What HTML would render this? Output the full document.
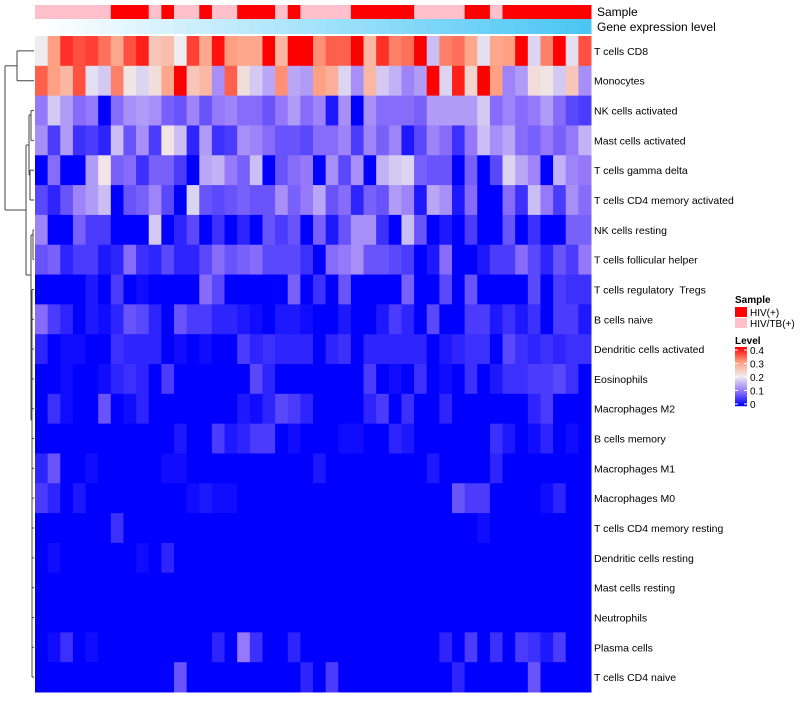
<!DOCTYPE html>
<html><head><meta charset="utf-8">
<style>
body{margin:0;background:#fff;}
svg text{font-family:"Liberation Sans",sans-serif;white-space:pre;}
</style></head>
<body>
<svg id="chart" width="800" height="700" xmlns="http://www.w3.org/2000/svg">
<g id="dend" stroke="#444" stroke-width="1" fill="none"></g>
<g id="annot"></g>
<g id="cells"></g>
<g id="labels"></g>
<text x="597" y="16" font-size="12">Sample</text>
<text x="597" y="31" font-size="12">Gene expression level</text>
<g>
<text x="735" y="303" font-size="10" font-weight="bold">Sample</text>
<rect x="735" y="307" width="12" height="10" fill="#ff0000"/>
<text x="750" y="316" font-size="10">HIV(+)</text>
<rect x="735" y="318" width="12" height="10" fill="#ffc0cb"/>
<text x="750" y="327" font-size="10">HIV/TB(+)</text>
<text x="735" y="344" font-size="10" font-weight="bold">Level</text>
<g id="cbar"></g>
</g>
</svg>
<script>
const rowNames=["T cells CD8","Monocytes","NK cells activated","Mast cells activated","T cells gamma delta","T cells CD4 memory activated","NK cells resting","T cells follicular helper","T cells regulatory  Tregs","B cells naive","Dendritic cells activated","Eosinophils","Macrophages M2","B cells memory","Macrophages M1","Macrophages M0","T cells CD4 memory resting","Dendritic cells resting","Mast cells resting","Neutrophils","Plasma cells","T cells CD4 naive"];
const sampleGroups=["T","T","T","T","T","T","H","H","H","T","H","T","T","H","T","T","H","H","H","T","H","T","T","T","T","H","H","H","H","H","T","T","T","T","H","H","T","H","H","H","H","H","H","H"];
const rowCD8=[0.2,0.3,0.37,0.35,0.36,0.33,0.29,0.35,0.38,0.25,0.26,0.2,0.36,0.29,0.39,0.3,0.29,0.29,0.4,0.27,0.4,0.4,0.31,0.34,0.34,0.4,0.27,0.37,0.32,0.33,0.4,0.16,0.32,0.33,0.29,0.19,0.29,0.3,0.4,0.18,0.32,0.4,0.19,0.35];
const rowMono=[0.34,0.3,0.27,0.35,0.19,0.17,0.32,0.21,0.18,0.22,0.29,0.4,0.25,0.27,0.12,0.34,0.22,0.17,0.14,0.31,0.14,0.13,0.3,0.28,0.18,0.12,0.27,0.17,0.15,0.11,0.13,0.4,0.18,0.38,0.23,0.4,0.3,0.11,0.13,0.22,0.21,0.17,0.25,0.12];
const rowNKa=[0.1,0.17,0.13,0.09,0.1,0,0.09,0.12,0.13,0.12,0.08,0.07,0.11,0.07,0.1,0.11,0.09,0.09,0.07,0.1,0.13,0.09,0.11,0.02,0.12,0,0.12,0.09,0.09,0.09,0.08,0.13,0.13,0.13,0.13,0.17,0.09,0.11,0.09,0.1,0.13,0.09,0.06,0.05];
const rowMastA=[0.12,0.05,0.13,0.04,0.05,0.03,0.16,0.07,0.12,0.05,0.21,0.16,0.03,0.13,0.04,0.05,0.12,0.11,0.09,0.07,0.07,0.06,0.09,0.09,0.11,0.05,0.11,0.08,0.11,0.02,0.06,0.11,0.09,0.04,0.1,0.16,0.12,0.14,0.09,0.08,0.1,0.08,0.1,0.15];
const rowGD=[0,0.09,0,0,0.13,0.21,0.08,0.09,0.04,0.08,0.08,0.05,0,0.14,0.15,0.1,0.08,0.16,0,0.07,0.09,0.1,0,0.12,0.06,0.12,0,0.15,0.17,0.18,0.08,0.07,0.07,0,0.08,0,0.06,0.18,0.14,0.11,0,0.15,0.11,0.1];
const rowCD4a=[0.06,0.03,0.07,0.11,0.13,0.16,0,0.07,0.08,0.11,0.06,0,0.18,0.07,0.06,0.07,0.08,0.07,0.07,0.12,0.08,0.1,0.14,0.07,0.09,0.03,0.08,0.07,0.13,0.11,0.02,0.14,0.12,0.02,0.09,0,0,0.09,0.04,0.16,0.1,0.05,0.12,0.09];
const rowNKr=[0.11,0,0,0.08,0.05,0.05,0,0,0,0.17,0,0.03,0.06,0,0.04,0,0.03,0,0.07,0.05,0.07,0,0.08,0.02,0.07,0.12,0.12,0.04,0,0.16,0.07,0,0.02,0,0.05,0,0,0.07,0,0.04,0,0,0.08,0.08];
const rowTfh=[0.07,0.08,0.03,0.05,0.05,0.02,0.03,0.09,0.04,0.03,0.06,0.03,0.03,0.06,0.09,0.07,0.08,0.09,0.06,0.06,0.06,0.04,0,0.09,0.1,0.12,0.07,0.07,0.06,0.05,0,0.02,0.09,0,0,0.02,0.05,0.05,0.09,0.06,0.03,0.07,0.05,0.1];
const rowTreg=[0,0,0,0,0.02,0,0.05,0,0.01,0,0,0,0,0.09,0.06,0,0,0,0,0,0.08,0,0.04,0,0.07,0,0,0,0,0.08,0,0,0.06,0,0.07,0,0,0,0,0.06,0,0.05,0.04,0.04];
const rowBn=[0.09,0.05,0.03,0,0.02,0.01,0.03,0.07,0.06,0.03,0,0.07,0.05,0.05,0.03,0.03,0.02,0.01,0,0.02,0.02,0.01,0,0,0.02,0,0,0.02,0.05,0.03,0,0.06,0,0,0.05,0.05,0.02,0.04,0.02,0.04,0,0.05,0.05,0.02];
const rowDCa=[0.03,0,0.01,0.01,0,0,0.04,0.03,0.03,0.03,0,0.01,0,0.01,0,0,0.05,0.03,0.04,0.03,0.03,0.03,0,0.03,0.04,0,0.03,0.03,0.03,0.03,0.03,0,0.02,0.03,0.04,0.04,0,0.06,0.04,0.03,0.04,0.03,0.04,0.04];
const rowEos=[0,0,0.01,0,0,0.01,0.03,0.04,0.03,0,0.05,0,0,0,0,0,0,0.06,0.03,0,0,0,0,0,0,0,0.05,0,0.01,0,0.04,0,0.01,0,0.04,0,0.02,0.04,0.04,0.05,0.05,0.06,0.04,0];
const rowM2=[0,0.04,0.01,0,0,0.07,0,0.01,0.03,0,0,0,0,0,0,0,0.02,0.01,0.03,0.06,0.05,0.03,0,0,0,0,0.03,0.05,0,0.04,0,0,0.03,0,0,0,0,0,0,0.03,0.05,0,0,0];
const rowBm=[0,0,0,0,0,0,0,0,0,0,0,0.02,0,0,0.05,0.02,0.03,0.05,0.05,0,0.01,0,0,0,0.01,0.01,0,0,0.03,0.02,0,0,0,0,0,0,0.04,0.02,0,0.01,0.03,0,0.01,0];
const rowM1=[0.03,0.07,0,0,0.01,0,0,0,0,0,0.01,0.01,0,0,0,0,0,0,0,0,0,0,0.02,0,0,0,0,0,0,0,0,0.02,0,0,0,0,0.03,0,0,0,0,0,0,0];
const rowM0=[0.05,0.03,0,0.02,0,0,0,0,0,0,0,0,0.01,0.02,0.01,0.01,0,0,0,0,0,0,0,0,0,0,0,0,0,0,0,0,0,0.07,0.05,0.05,0,0,0,0,0.01,0.03,0,0];
const rowCD4r=[0,0,0,0,0,0,0.04,0,0,0,0,0,0,0,0,0,0,0,0,0,0,0,0,0,0,0,0,0,0,0,0,0,0,0,0,0.01,0,0,0,0,0,0,0,0];
const rowDCr=[0,0.01,0,0,0,0,0,0,0.01,0,0.03,0,0,0,0,0,0,0,0,0,0,0,0,0,0,0,0,0,0,0,0,0,0,0,0,0,0,0,0,0,0,0,0,0];
const rowMastR=[0,0,0,0,0,0,0,0,0,0,0,0,0,0,0,0,0,0,0,0,0,0,0,0,0,0,0,0,0,0,0,0,0,0,0,0,0,0,0,0,0,0,0,0];
const rowNeut=[0,0,0,0,0,0,0,0,0,0,0,0,0,0,0,0,0,0,0,0,0,0,0,0,0,0,0,0,0,0,0,0,0,0,0,0,0,0,0,0,0,0,0,0];
const rowPlasma=[0,0.01,0.04,0,0.01,0,0,0,0,0,0,0,0,0,0.03,0,0.1,0.04,0,0,0.03,0,0,0,0,0,0,0,0,0,0,0,0.03,0,0.05,0,0.04,0,0.05,0.04,0.02,0.05,0,0];
const rowCD4n=[0,0,0,0,0,0,0,0,0,0,0,0.07,0,0,0,0,0,0,0,0,0,0.03,0,0.05,0,0,0,0,0,0,0,0,0,0.03,0,0,0,0,0,0.07,0,0,0,0];
const cbTicks=[0,0.1,0.2,0.3,0.4];

const data=[rowCD8,rowMono,rowNKa,rowMastA,rowGD,rowCD4a,rowNKr,rowTfh,rowTreg,rowBn,rowDCa,rowEos,rowM2,rowBm,rowM1,rowM0,rowCD4r,rowDCr,rowMastR,rowNeut,rowPlasma,rowCD4n];
const NS="http://www.w3.org/2000/svg";
const X0=35,X1=591,Y0=36,Y1=692;
const nC=rowCD8.length,nR=data.length;
const cw=(X1-X0)/nC,rh=(Y1-Y0)/nR;
const xPos=i=>X0+i*cw, yPos=j=>Y0+j*rh;
const stops=[[0,[0,0,255]],[0.1,[150,120,250]],[0.2,[238,236,240]],[0.3,[255,160,130]],[0.4,[255,0,0]]];
function col(v){
  v=Math.max(0,Math.min(0.4,v));
  for(let k=0;k<stops.length-1;k++){
    const [a,ca]=stops[k],[b,cb]=stops[k+1];
    if(v<=b){const t=(v-a)/(b-a);return `rgb(${ca.map((c,i)=>Math.round(c+(cb[i]-c)*t)).join(',')})`;}
  }
  return 'rgb(255,0,0)';
}
function mk(tag,attrs,parent){const e=document.createElementNS(NS,tag);for(const k in attrs)e.setAttribute(k,attrs[k]);parent.appendChild(e);return e;}
const cells=document.getElementById('cells');
data.forEach((row,j)=>row.forEach((v,i)=>{
  const r=mk('rect',{x:xPos(i),y:yPos(j),width:cw+0.5,height:rh+0.5,fill:col(v)},cells);
  
  
}));
const labels=document.getElementById('labels');
rowNames.forEach((n,j)=>{
  const t=mk('text',{x:594,y:yPos(j)+rh/2+4,'font-size':'10.5'},labels);
  t.textContent=n;
  
  
});
const annot=document.getElementById('annot');
sampleGroups.forEach((g,i)=>{
  const r=mk('rect',{x:xPos(i),y:5,width:cw+0.5,height:14,fill:g==='H'?'#ff0000':'#ffc0cb'},annot);
  
  
  const t=i/(nC-1);
  const c=[255+(74-255)*t,255+(198-255)*t,255+(245-255)*t].map(Math.round);
  const r2=mk('rect',{x:xPos(i),y:19,width:cw+0.5,height:15,fill:`rgb(${c.join(',')})`},annot);
  
  
});
const d=document.getElementById('dend');
const yc=j=>yPos(j)+rh/2;
function seg(x1,y1,x2,y2){const l=mk('line',{x1,y1,x2,y2},d);}
seg(17,yc(0),34,yc(0));seg(17,yc(1),34,yc(1));seg(17,yc(0),17,yc(1));
const restMid=210;
seg(5,(yc(0)+yc(1))/2,17,(yc(0)+yc(1))/2);seg(5,(yc(0)+yc(1))/2,5,restMid);seg(5,restMid,26,restMid);
seg(26,145,26,275);
seg(26,145,29,145);seg(29,115,29,175);
seg(29,115,31,115);seg(31,yc(2),31,yc(3));seg(31,yc(2),34,yc(2));seg(31,yc(3),34,yc(3));
seg(29,175,30,175);seg(30,yc(4),30,yc(5));seg(30,yc(4),34,yc(4));seg(30,yc(5),34,yc(5));
seg(26,275,31,275);seg(31,235,31,420);
seg(31,235,33,235);seg(33,yc(6),33,yc(7));seg(33,yc(6),34,yc(6));seg(33,yc(7),34,yc(7));
seg(31,420,32,420);seg(32,yc(8),32,yc(21));
for(let j=8;j<22;j++)seg(32,yc(j),34,yc(j));
const cb=document.getElementById('cbar');
const cbTop=347,cbBot=406,cbMax=0.4;
const cbY=v=>cbBot-2-(v/cbMax)*(cbBot-cbTop-5);
for(let k=0;k<59;k++){
  const v=cbMax*(1-k/58);
  const r=mk('rect',{x:735,y:cbTop+k,width:12,height:1.2,fill:col(v)},cb);
  
  
}
cbTicks.forEach(v=>{
  const y=cbY(v);
  const l1=mk('line',{x1:735,y1:y,x2:738,y2:y,stroke:'#fff','stroke-width':1},cb);
  
  
  const l2=mk('line',{x1:744,y1:y,x2:747,y2:y,stroke:'#fff','stroke-width':1},cb);
  
  
  const t=mk('text',{x:750,y:y+4,'font-size':'10'},cb);
  t.textContent=String(v);
  
  
});
</script>
</body></html>
